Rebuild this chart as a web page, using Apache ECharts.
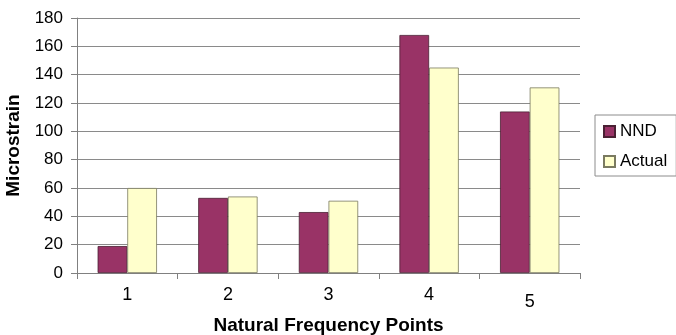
<!DOCTYPE html>
<html>
<head>
<meta charset="utf-8">
<script src="https://cdn.jsdelivr.net/npm/echarts@6/dist/echarts.min.js"></script>
<style>
  html, body { margin: 0; padding: 0; background: #fff; }
  #chart { width: 676px; height: 335px; }
</style>
</head>
<body>
<div id="chart"></div>
<script>
// Strain per natural frequency point: network prediction vs measured
const categories = ['1', '2', '3', '4', '5'];
const nndValues = [19, 53, 43, 168, 114];
const actualValues = [60, 54, 51, 145, 131];
const yTicks = [0, 20, 40, 60, 80, 100, 120, 140, 160, 180];

const font = 'Arial, "Liberation Sans", sans-serif';
const chart = echarts.init(document.getElementById('chart'), null, { renderer: 'canvas' });

chart.setOption({
  animation: false,
  backgroundColor: '#ffffff',
  grid: { left: 77, right: 96, top: 18, bottom: 62, outerBoundsMode: 'none', containLabel: false },
  legend: {
    orient: 'vertical',
    left: 595,
    top: 115,
    padding: [8, 9, 6, 8],
    itemGap: 13,
    itemWidth: 11,
    itemHeight: 11,
    icon: 'rect',
    borderColor: '#8c8c8c',
    borderWidth: 1,
    textStyle: { fontFamily: font, fontSize: 17, color: '#000', lineHeight: 17 },
    data: ['NND', 'Actual']
  },
  xAxis: {
    type: 'category',
    data: categories.map((c, i) => i === 4
      ? { value: c, textStyle: { padding: [7, 0, 0, 0] } }
      : c),
    name: 'Natural Frequency Points',
    nameLocation: 'middle',
    nameGap: 36,
    nameTextStyle: { fontFamily: font, fontSize: 19, fontWeight: 'bold', color: '#000' },
    axisLine: { lineStyle: { color: '#808080', width: 1 } },
    axisTick: { show: true, alignWithLabel: false, length: 6, lineStyle: { color: '#808080' } },
    axisLabel: { fontFamily: font, fontSize: 18, color: '#000', margin: 13 },
    splitLine: { show: false }
  },
  yAxis: {
    type: 'value',
    min: yTicks[0],
    max: yTicks[yTicks.length - 1],
    interval: yTicks[1] - yTicks[0],
    name: 'Microstrain',
    nameLocation: 'middle',
    nameGap: 50,
    nameRotate: 90,
    nameTextStyle: { fontFamily: font, fontSize: 19, fontWeight: 'bold', color: '#000' },
    axisLine: { show: true, lineStyle: { color: '#808080', width: 1 } },
    axisTick: { show: true, length: 6, inside: false, lineStyle: { color: '#808080' } },
    axisLabel: { fontFamily: font, fontSize: 17, color: '#000', margin: 14 },
    splitLine: { show: true, lineStyle: { color: '#8a8a8a', width: 1 } }
  },
  series: [
    {
      name: 'NND',
      type: 'bar',
      data: nndValues,
      barGap: '0%',
      barCategoryGap: '41%',
      itemStyle: { color: '#993366', borderColor: '#4a2033', borderWidth: 0.8 }
    },
    {
      name: 'Actual',
      type: 'bar',
      data: actualValues,
      itemStyle: { color: '#ffffcc', borderColor: '#7a7a60', borderWidth: 0.8 }
    }
  ]
});
</script>
</body>
</html>
